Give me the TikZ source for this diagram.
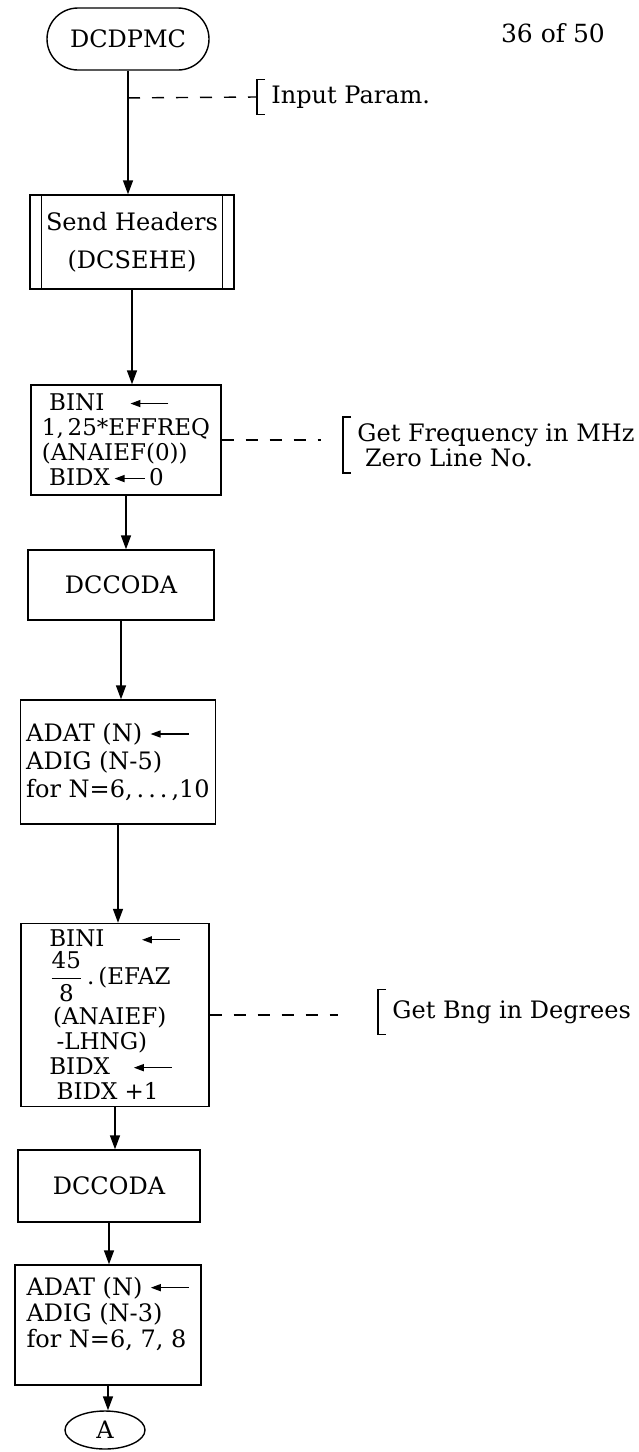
\documentclass[tikz,border=0pt]{standalone}
\usepackage{amsmath}
\usepackage{fontspec}
\setmainfont{DejaVu Serif}
\usetikzlibrary{arrows.meta, positioning, calc, shapes.geometric}
\newcommand{\getsarr}[1][19pt]{\tikz[baseline=-0.6ex]\draw[-{Triangle[length=5pt,width=3.5pt]}, line width=0.7pt] (0pt,0pt) -- (-#1,0pt);}

\begin{document}
\begin{tikzpicture}[
			x=0.5pt, y=-0.5pt,
			box/.style={rectangle, draw, line width=0.7pt, align=left, inner xsep=3pt, font=\fontsize{11.5}{12.5}\selectfont},
			term/.style={rectangle, rounded corners=15.5pt, draw, line width=0.7pt, minimum width=81pt, minimum height=31pt, font=\fontsize{12}{12}\selectfont},
			conn/.style={ellipse, draw, line width=0.7pt, minimum width=40pt, minimum height=19pt, inner sep=0pt, font=\fontsize{12}{12}\selectfont},
			note/.style={align=left, inner xsep=7pt, inner ysep=3pt, font=\fontsize{12}{12.5}\selectfont},
			arr/.style={-{Triangle[length=7pt,width=5pt]}, line width=0.7pt},
			dsh/.style={dash pattern=on 6pt off 6pt, line width=0.7pt},
			brk/.style={line width=0.7pt}
			]
			\useasboundingbox (0,0) rectangle (638,1452);
			% Kolumna glowna
			\node[term] (start) at (128,39) {DCDPMC};
			\node[font=\fontsize{12.5}{12.5}\selectfont] (page) at (553,33) {36 of 50};
			\node[box, minimum width=102pt, minimum height=47pt, align=center, font=\fontsize{12}{12}\selectfont] (hdr) at (132,242) {Send Headers\\[7pt](DCSEHE)};
			\node[box, minimum width=95pt, minimum height=55pt] (bini) at (126,440) {\ BINI\hspace{1.1em}\getsarr\\1,\,25*EFFREQ\\(ANAIEF(0))\\\ BIDX\,\getsarr[15pt]\,0};
			\node[box, minimum width=93pt, minimum height=35pt, align=center, font=\fontsize{12}{12}\selectfont] (coda) at (121,585) {DCCODA};
			\node[box, minimum width=95pt, minimum height=62pt, font=\fontsize{12}{14}\selectfont] (adat) at (118,762) {ADAT (N) \getsarr\\ADIG (N-5)\\for N=6,\,.\,.\,.\,,10};
			\node[box, minimum width=94pt, minimum height=90pt] (binib) at (115,1015) {BINI\hspace{1.6em}\getsarr\\[1pt]$\dfrac{\text{45}}{\text{8}}$\,.\,(EFAZ\\[2pt]\,(ANAIEF)\\\ -LHNG)\\BIDX\hspace{1em}\getsarr\\\ BIDX +1};
			\node[box, minimum width=91pt, minimum height=36pt, align=center, font=\fontsize{12}{12}\selectfont] (codab) at (109,1186) {DCCODA};
			\node[box, minimum width=93pt, minimum height=60pt, font=\fontsize{12}{13}\selectfont] (adatb) at (108,1325) {ADAT (N) \getsarr\\ADIG (N-3)\\for N=6, 7, 8\\\mbox{}};
			\node[conn] (endA) at (105,1430) {A};
			% podwojne boki procedury
			\draw[brk] ([xshift=6pt]hdr.north west) -- ([xshift=6pt]hdr.south west);
			\draw[brk] ([xshift=-6pt]hdr.north east) -- ([xshift=-6pt]hdr.south east);
			% Strzalki (pionowe)
			\draw[arr] (start.south) -- (start.south |- hdr.north);
			\draw[arr] (hdr.south) -- (hdr.south |- bini.north);
			\draw[arr] (bini.south) -- (bini.south |- coda.north);
			\draw[arr] (coda.south) -- (coda.south |- adat.north);
			\draw[arr] (adat.south) -- (adat.south |- binib.north);
			\draw[arr] (binib.south) -- (binib.south |- codab.north);
			\draw[arr] (codab.south) -- (codab.south |- adatb.north);
			\draw[arr] (adatb.south) -- (adatb.south |- endA.north);
			% Komentarze
			\node[note, anchor=west] (inp) at (257,97) {Input Param.};
			\coordinate (p1) at ($(start.south)!0.22!(start.south |- hdr.north)$);
			\draw[dsh] (p1) -- (inp.west);
			\draw[brk] ([xshift=4pt]inp.north west) -- (inp.north west) -- (inp.south west) -- ([xshift=4pt]inp.south west);
			\node[note, anchor=west] (freq) at (343,445) {Get Frequency in MHz\\\ Zero Line No.};
			\draw[dsh] (bini.east) -- ([xshift=-11pt]freq.west |- bini.east);
			\draw[brk] ([xshift=4pt]freq.north west) -- (freq.north west) -- (freq.south west) -- ([xshift=4pt]freq.south west);
			\node[note, anchor=west, minimum height=22pt] (bng) at (378,1012) {Get Bng in Degrees};
			\draw[dsh] (binib.east) -- ([xshift=-20pt]bng.west |- binib.east);
			\draw[brk] ([xshift=4pt]bng.north west) -- (bng.north west) -- (bng.south west) -- ([xshift=4pt]bng.south west);
		\end{tikzpicture}
\end{document}
